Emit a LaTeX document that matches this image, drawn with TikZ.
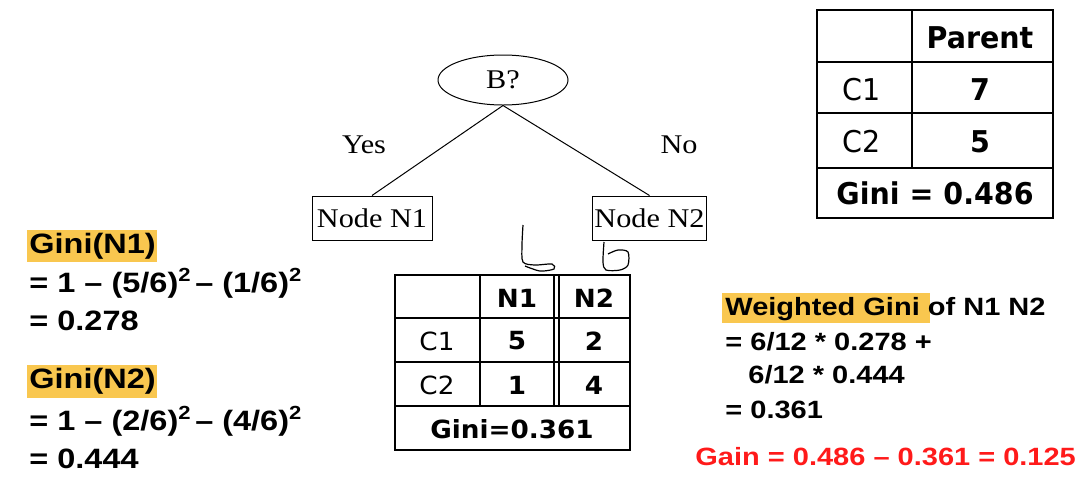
\documentclass[tikz,border=0pt]{standalone}
\usepackage{fontspec}
\setmainfont{Liberation Serif}
\newfontfamily\TreeFont[FakeStretch=1.12]{Liberation Serif}
\newfontfamily\CalcFont[FakeStretch=1.16]{Liberation Sans}
\newfontfamily\ParentFont[FakeStretch=0.95]{DejaVu Sans}
\newfontfamily\SplitFont[FakeStretch=1.05]{DejaVu Sans}
\usetikzlibrary{shapes.geometric}

\definecolor{Highlight}{HTML}{F9C74F}
\definecolor{GainRed}{HTML}{FF1A1A}

\newcommand{\sqr}{\raisebox{0.7ex}{\fontsize{9.5}{10}\selectfont 2}}

\begin{document}
\begin{tikzpicture}[x=0.5pt, y=-0.5pt,
  treetext/.style={font=\TreeFont\fontsize{13.5}{15}\selectfont, inner sep=1pt},
  calcleft/.style={anchor=base west, inner sep=0pt, font=\CalcFont\bfseries\fontsize{14}{16}\selectfont},
  calcright/.style={anchor=base west, inner sep=0pt, font=\CalcFont\bfseries\fontsize{12.5}{15}\selectfont},
  ptab/.style={inner sep=0pt, font=\ParentFont\fontsize{15}{17}\selectfont},
  ntab/.style={inner sep=0pt, font=\SplitFont\fontsize{12.5}{14}\selectfont},
  grid/.style={line width=0.75pt}]

 \useasboundingbox (0,0) rectangle (1092,483);

 %%%%%%%%%% The split on B %%%%%%%%%%
 \node[treetext, ellipse, draw, line width=0.5pt, minimum width=65pt, minimum height=25pt, inner sep=0pt] (B) at (503,80) {B?};
 \node[treetext, draw, line width=0.5pt, minimum width=60pt, minimum height=22pt] (N1) at (372,218) {Node N1};
 \node[treetext, draw, line width=0.5pt, minimum width=56.5pt, minimum height=22pt] (N2) at (649.5,218) {Node N2};
 \draw [line width=0.5pt] (B.south) -- (N1.north) ;
 \draw [line width=0.5pt] (B.south) -- (N2.north) ;
 \node[treetext] (yes) at (364,145) {Yes};
 \node[treetext] (no) at (679,145) {No};

 %%%%%%%%%% Pen marks %%%%%%%%%%
 \draw [line width=0.6pt] plot[smooth] coordinates {(523,225) (522,245) (523,262) (535,265) (552,264) (554,269) (540,271) (525,266)};
 \draw [line width=0.6pt] plot[smooth] coordinates {(604,242) (603,262) (606,270) (620,270) (628,265) (628,252) (618,250) (608,254)};

 %%%%%%%%%% Parent table %%%%%%%%%%
 \draw [grid] (817,10) rectangle (1053,218) ;
 \foreach \y in {62,113,168}
 {
   \draw [grid] (817,\y) -- (1053,\y) ;
 }
 \draw [grid] (912,10) -- (912,168) ;
 \node[ptab] (parent) at (980,38) {\bfseries Parent};
 \node[ptab] (pc1) at (862,90) {C1};
 \node[ptab] (pc2) at (862,142) {C2};
 \node[ptab] (p7) at (980,90) {\bfseries 7};
 \node[ptab] (p5) at (980,142) {\bfseries 5};
 \node[ptab] (pgini) at (935,193) {\bfseries Gini = 0.486};

 %%%%%%%%%% Split table %%%%%%%%%%
 \draw [grid] (395,275) rectangle (630,450) ;
 \foreach \y in {318,362,406}
 {
   \draw [grid] (395,\y) -- (630,\y) ;
 }
 \foreach \x in {480,554,559}
 {
   \draw [grid] (\x,275) -- (\x,406) ;
 }
 \node[ntab] (hn1) at (517,298) {\bfseries N1};
 \node[ntab] (hn2) at (594,298) {\bfseries N2};
 \node[ntab] (sc1) at (437,341) {C1};
 \node[ntab] (sc2) at (437,385) {C2};
 \node[ntab] (s51) at (517,341) {\bfseries 5};
 \node[ntab] (s21) at (594,341) {\bfseries 2};
 \node[ntab] (s12) at (517,385) {\bfseries 1};
 \node[ntab] (s42) at (594,385) {\bfseries 4};
 \node[ntab] (sgini) at (512,429) {\bfseries Gini=0.361};

 %%%%%%%%%% Gini of each node %%%%%%%%%%
 \fill [Highlight] (27,230) rectangle (157,262) ;
 \fill [Highlight] (27,365) rectangle (157,398) ;
 \node[calcleft] (g1) at (29,253) {Gini(N1)};
 \node[calcleft] (g1a) at (29,292) {= 1 – (5/6)\sqr\,– (1/6)\sqr};
 \node[calcleft] (g1b) at (29,330) {= 0.278};
 \node[calcleft] (g2) at (29,388) {Gini(N2)};
 \node[calcleft] (g2a) at (29,430) {= 1 – (2/6)\sqr\,– (4/6)\sqr};
 \node[calcleft] (g2b) at (29,468) {= 0.444};

 %%%%%%%%%% Weighted Gini and gain %%%%%%%%%%
 \fill [Highlight] (722,293) rectangle (930,323) ;
 \node[calcright] (wg) at (725,315) {Weighted Gini of N1 N2};
 \node[calcright] (wg1) at (725,350) {= 6/12 * 0.278 +};
 \node[calcright] (wg2) at (748,383) {6/12 * 0.444};
 \node[calcright] (wg3) at (725,418) {= 0.361};
 \node[calcright, text=GainRed] (gain) at (695,465) {Gain = 0.486 – 0.361 = 0.125};

\end{tikzpicture}
\end{document}
